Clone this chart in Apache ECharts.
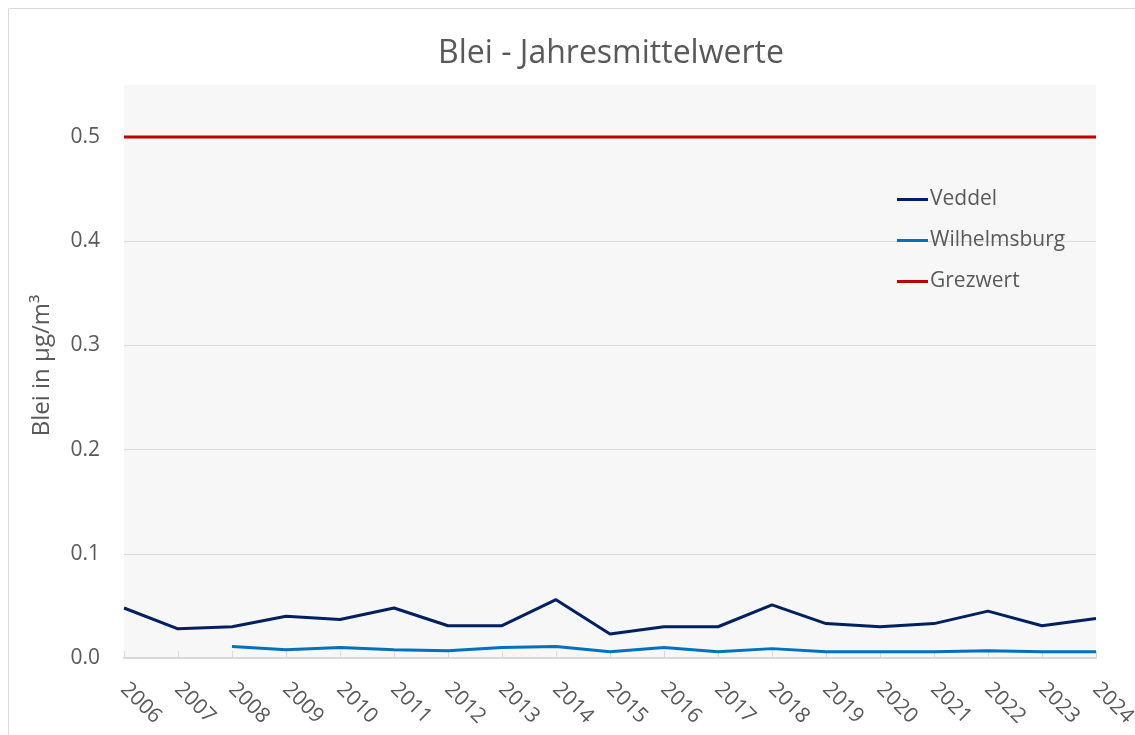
<!DOCTYPE html>
<html>
<head>
<meta charset="utf-8">
<script src="https://cdn.jsdelivr.net/npm/echarts@6/dist/echarts.min.js"></script>
<style>
  html, body { margin: 0; padding: 0; background: #fff; }
  #chart { width: 1135px; height: 735px; }
</style>
</head>
<body>
<div id="chart"></div>
<script>
var years = ['2006', '2007', '2008', '2009', '2010', '2011', '2012', '2013', '2014', '2015',
             '2016', '2017', '2018', '2019', '2020', '2021', '2022', '2023', '2024'];
var veddel = [0.048, 0.028, 0.030, 0.040, 0.037, 0.048, 0.031, 0.031, 0.056, 0.023,
              0.030, 0.030, 0.051, 0.033, 0.030, 0.033, 0.045, 0.031, 0.038];
var wilhelmsburg = [null, null, 0.011, 0.008, 0.010, 0.008, 0.007, 0.010, 0.011, 0.006,
                    0.010, 0.006, 0.009, 0.006, 0.006, 0.006, 0.007, 0.006, 0.006];
var grenzwert = [0.5, 0.5, 0.5, 0.5, 0.5, 0.5, 0.5, 0.5, 0.5, 0.5,
                 0.5, 0.5, 0.5, 0.5, 0.5, 0.5, 0.5, 0.5, 0.5];
var seriesNames = ['Veddel', 'Wilhelmsburg', 'Grezwert'];

var font = '"Open Sans", Lato, sans-serif';
var grey = '#595959';

var chart = echarts.init(document.getElementById('chart'));

var option = {
    animation: false,
    textStyle: {fontFamily: font},
    graphic: [{
        type: 'rect',
        shape: {x: 8.5, y: 8.5, width: 1200, height: 800},
        style: {fill: 'none', stroke: '#d9d9d9', lineWidth: 1},
        silent: true
    }],
    title: {
        text: 'Blei - Jahresmittelwerte',
        left: 611,
        textAlign: 'center',
        top: 38,
        padding: 0,
        textStyle: {fontFamily: font, fontSize: 32, fontWeight: 'normal', color: grey}
    },
    legend: {
        orient: 'vertical',
        left: 897,
        top: 189,
        padding: 0,
        itemWidth: 31,
        itemHeight: 3,
        itemGap: 20,
        icon: 'rect',
        textStyle: {fontFamily: font, fontSize: 21, color: grey, padding: [0, 0, 0, -3]},
        data: seriesNames
    },
    grid: {
        left: 124,
        right: 39,
        top: 85,
        bottom: 77,
        outerBoundsMode: 'none',
        containLabel: false,
        show: true,
        backgroundColor: '#f7f7f7',
        borderWidth: 0
    },
    xAxis: {
        type: 'category',
        data: years,
        boundaryGap: false,
        axisLine: {lineStyle: {color: '#d9d9d9', width: 2}},
        axisTick: {show: true, inside: true, length: 7, lineStyle: {color: '#d9d9d9', width: 1}},
        axisLabel: {rotate: -45, margin: 28, fontFamily: font, fontSize: 21, color: grey, interval: 0}
    },
    yAxis: {
        type: 'value',
        min: 0,
        max: 0.55,
        interval: 0.1,
        name: 'Blei in µg/m³',
        nameLocation: 'middle',
        nameGap: 70,
        nameTextStyle: {fontFamily: font, fontSize: 24, color: grey, padding: [0, 0, 0, 12]},
        axisLine: {show: false},
        axisTick: {show: false},
        axisLabel: {
            margin: 24,
            fontFamily: font,
            fontSize: 21,
            color: grey,
            showMaxLabel: false,
            formatter: function (v) { return v.toFixed(1); }
        },
        splitLine: {show: true, showMaxLine: false, lineStyle: {color: '#d9d9d9', width: 1}}
    },
    series: [
        {
            name: seriesNames[0],
            type: 'line',
            data: veddel,
            symbol: 'none',
            lineStyle: {color: '#002060', width: 3},
            itemStyle: {color: '#002060'}
        },
        {
            name: seriesNames[1],
            type: 'line',
            data: wilhelmsburg,
            symbol: 'none',
            lineStyle: {color: '#0070c0', width: 3},
            itemStyle: {color: '#0070c0'}
        },
        {
            name: seriesNames[2],
            type: 'line',
            data: grenzwert,
            symbol: 'none',
            lineStyle: {color: '#c00000', width: 3},
            itemStyle: {color: '#c00000'}
        }
    ]
};

chart.setOption(option);
</script>
</body>
</html>
